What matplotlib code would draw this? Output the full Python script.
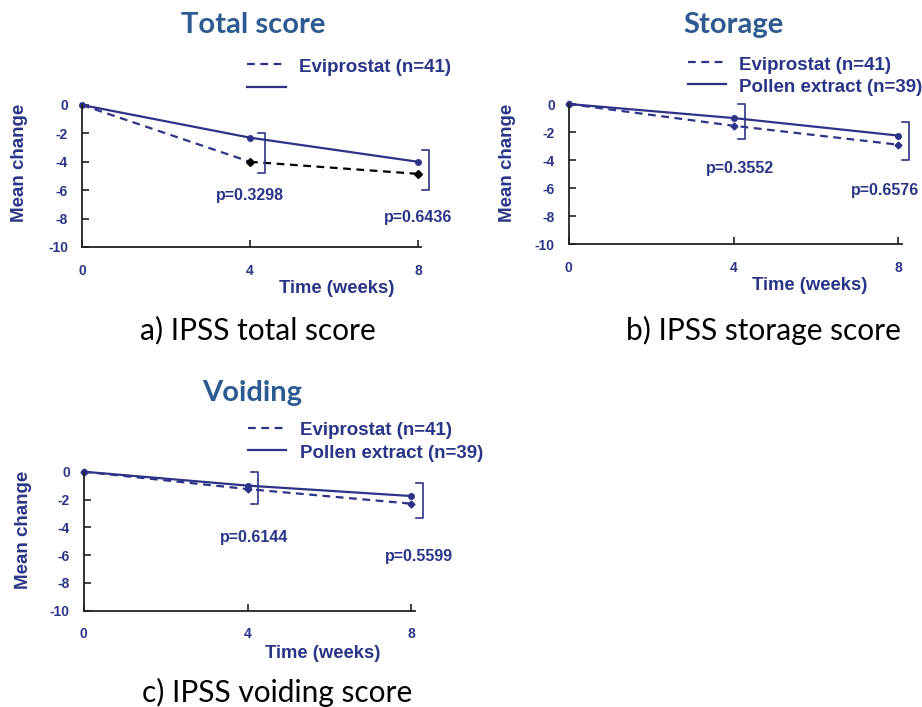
import numpy as np
import matplotlib.pyplot as plt
from matplotlib.lines import Line2D

# Данные
weeks = [0, 4, 8]
y_ticks = [0, -2, -4, -6, -8, -10]

total_evi = [0, -4.0, -4.85]
total_pollen = [0, -2.3, -4.0]
storage_evi = [0, -1.55, -2.9]
storage_pollen = [0, -1.0, -2.25]
voiding_evi = [0, -1.25, -2.3]
voiding_pollen = [0, -1.0, -1.75]

total_p = ["p=0.3298", "p=0.6436"]
storage_p = ["p=0.3552", "p=0.6576"]
voiding_p = ["p=0.6144", "p=0.5599"]

# скобки: (x, верх, низ)
total_brackets = [(4.35, -2.0, -4.8), (8.27, -3.2, -6.0)]
storage_brackets = [(4.28, 0.0, -2.5), (8.27, -1.3, -4.0)]
voiding_brackets = [(4.25, 0.0, -2.3), (8.28, -0.8, -3.3)]

# положения подписей p
total_p_pos = [(4.0, -6.4), (8.0, -7.9)]
storage_p_pos = [(4.17, -4.6), (7.68, -6.2)]
voiding_p_pos = [(4.17, -4.7), (8.2, -6.1)]

W, H = 922, 707
NAVY = '#2E3388'
TXT = '#2B3587'
TITLE = '#2C5A91'
SPINE = '#222222'
BOLD = 'Liberation Sans'
CAL = 'Lato'


def px(x, y):
    return x / W, 1 - y / H


def make_axes(fig, x0, x8, xend, y0, y10):
    ax = fig.add_axes([x0 / W, 1 - y10 / H, (xend - x0) / W, (y10 - y0) / H])
    ax.set_xlim(0, 8 * (xend - x0) / (x8 - x0))
    ax.set_ylim(-10, 0)
    ax.set_xticks(weeks)
    ax.set_yticks(y_ticks)
    ax.set_xticklabels([str(w) for w in weeks])
    ax.set_yticklabels([str(v) for v in y_ticks])
    for s in ['top', 'right']:
        ax.spines[s].set_visible(False)
    for s in ['left', 'bottom']:
        ax.spines[s].set_color(SPINE)
        ax.spines[s].set_linewidth(1.3)
    ax.tick_params(direction='in', length=5, width=1.2, color=SPINE,
                   labelcolor=TXT, labelsize=10)
    ax.tick_params(axis='x', pad=12)
    ax.tick_params(axis='y', pad=10)
    for lab in ax.get_xticklabels() + ax.get_yticklabels():
        lab.set_family(BOLD)
        lab.set_fontweight('bold')
    ax.patch.set_alpha(0)
    return ax


def draw_brackets(ax, brackets):
    for bx, top, bot in brackets:
        ax.plot([bx - 0.17, bx, bx, bx - 0.17], [top, top, bot, bot],
                color=NAVY, lw=1.2, clip_on=False)


def draw_p(ax, labels, pos):
    for lab, (x, y) in zip(labels, pos):
        ax.text(x, y, lab, ha='center', va='center', fontsize=11.5,
                family=BOLD, fontweight='bold', color=TXT, clip_on=False)


def draw_legend(fig, xl0, xl1, xt, y1, y2, second_label=True):
    fig.add_artist(Line2D([xl0 / W, xl1 / W], [1 - y1 / H] * 2, color=NAVY,
                          lw=1.6, dashes=(3.5, 2.5)))
    fig.text(*px(xt, y1 + 3), "Eviprostat (n=41)", ha='left', va='center',
             fontsize=13.5, family=BOLD, fontweight='bold', color=TXT)
    fig.add_artist(Line2D([xl0 / W, xl1 / W + 3 / W], [1 - y2 / H] * 2,
                          color=NAVY, lw=1.6))
    if second_label:
        fig.text(*px(xt, y2 + 3), "Pollen extract (n=39)", ha='left',
                 va='center', fontsize=13.5, family=BOLD, fontweight='bold',
                 color=TXT)


def labels(fig, title, tx, ty, ylx, yly, xlx, xly, cap, cx, cy):
    fig.text(*px(tx, ty), title, ha='center', va='center', fontsize=21,
             family=CAL, fontweight='bold', color=TITLE)
    fig.text(*px(ylx, yly), "Mean change", ha='center', va='center',
             rotation=90, fontsize=13.5, family=BOLD, fontweight='bold',
             color=TXT)
    fig.text(*px(xlx, xly), "Time (weeks)", ha='center', va='center',
             fontsize=13.3, family=BOLD, fontweight='bold', color=TXT)
    fig.text(*px(cx, cy), cap, ha='center', va='center', fontsize=21.5,
             family=CAL, color='black')


fig = plt.figure(figsize=(W / 100, H / 100), dpi=100)

# a) Total score
ax1 = make_axes(fig, 82, 418, 421, 105, 247)
ax1.plot(weeks, total_pollen, color=NAVY, lw=1.6, marker='o', ms=4, clip_on=False)
ax1.plot(weeks[:2], total_evi[:2], color=NAVY, lw=1.6, dashes=(3.5, 2.5), clip_on=False)
ax1.plot(weeks[1:], total_evi[1:], color='black', lw=1.6, dashes=(3.5, 2.5),
         marker='D', ms=4, clip_on=False)
draw_brackets(ax1, total_brackets)
draw_p(ax1, total_p, total_p_pos)
draw_legend(fig, 247, 283, 299, 64, 87, second_label=False)
labels(fig, "Total score", 253, 25, 20, 163, 337, 288,
       "a) IPSS total score", 258, 330)

# b) Storage
ax2 = make_axes(fig, 568.7, 898.3, 902.3, 104, 244.3)
ax2.plot(weeks, storage_pollen, color=NAVY, lw=1.6, marker='o', ms=4, clip_on=False)
ax2.plot(weeks, storage_evi, color=NAVY, lw=1.6, dashes=(3.5, 2.5),
         marker='D', ms=3.5, clip_on=False)
draw_brackets(ax2, storage_brackets)
draw_p(ax2, storage_p, storage_p_pos)
draw_legend(fig, 688, 723, 739, 62, 84)
labels(fig, "Storage", 733, 25, 507, 163, 810, 285,
       "b) IPSS storage score", 763, 330)

# c) Voiding
ax3 = make_axes(fig, 83.7, 411.3, 415, 471.7, 610.7)
ax3.plot(weeks, voiding_pollen, color=NAVY, lw=1.6, marker='o', ms=4, clip_on=False)
ax3.plot(weeks, voiding_evi, color=NAVY, lw=1.6, dashes=(3.5, 2.5),
         marker='D', ms=3.5, clip_on=False)
draw_brackets(ax3, voiding_brackets)
draw_p(ax3, voiding_p, voiding_p_pos)
draw_legend(fig, 248, 283, 300, 428, 450)
labels(fig, "Voiding", 252, 393, 23, 530, 323, 653,
       "c) IPSS voiding score", 277, 692)

fig.savefig('out.png', dpi=100)
